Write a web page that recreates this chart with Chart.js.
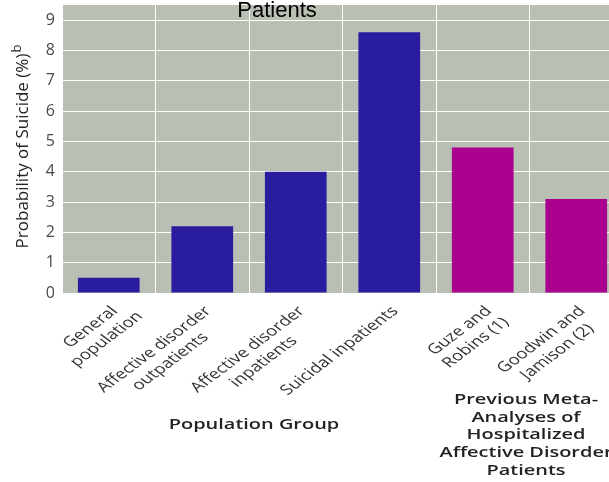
<!DOCTYPE html>
<html>
<head>
<meta charset="utf-8">
<script src="https://cdn.jsdelivr.net/npm/chart.js@4.4.1/dist/chart.umd.min.js"></script>
<style>
    html, body { margin: 0; padding: 0; overflow: hidden; background: #fff; }
    #wrap { width: 625px; height: 482px; }
</style>
</head>
<body>
<div id="wrap"><canvas id="suicideChart"></canvas></div>
<script>
// data
const groupLabels = [
    ['General', 'population'],
    ['Affective disorder', 'outpatients'],
    ['Affective disorder', 'inpatients'],
    ['Suicidal inpatients'],
    ['Guze and', 'Robins (1)'],
    ['Goodwin and', 'Jamison (2)']
];
const suicideProbability = [0.5, 2.2, 4.0, 8.6, 4.8, 3.1];
const barColors = ['#2a1c9e', '#2a1c9e', '#2a1c9e', '#2a1c9e', '#aa028e', '#aa028e'];
const yMin = 0, yMax = 9.5, yStep = 1;

const chartTitle = 'Patients';
const yTitle = 'Probability of Suicide (%)';
const yTitleSup = 'b';
const groupTitle = 'Population Group';
const metaTitle = ['Previous Meta-', 'Analyses of', 'Hospitalized', 'Affective Disorder', 'Patients'];

// the source picture is stretched sideways, so the bottom texts are too
const stretch = 1.33;

const plotBackground = {
    id: 'plotBackground',
    beforeDraw(chart) {
        const { ctx, chartArea } = chart;
        ctx.save();
        ctx.fillStyle = '#babfb4';
        ctx.fillRect(chartArea.left, chartArea.top, chartArea.right - chartArea.left, chartArea.bottom - chartArea.top);
        ctx.restore();
    }
};

function stretchedText(ctx, text, x, y) {
    ctx.save();
    ctx.translate(x, y);
    ctx.scale(stretch, 1);
    ctx.fillText(text, 0, 0);
    ctx.restore();
}

const textLayer = {
    id: 'textLayer',
    afterDraw(chart) {
        const { ctx, chartArea } = chart;
        const x = chart.scales.x;
        ctx.save();

        // slanted category labels, first line ends at the tick
        ctx.fillStyle = '#333';
        ctx.font = '14px "Open Sans"';
        ctx.textAlign = 'center';
        ctx.textBaseline = 'middle';
        groupLabels.forEach((lines, i) => {
            const px = x.getPixelForTick(i);
            const w0 = ctx.measureText(lines[0]).width;
            ctx.save();
            ctx.translate(px + 6, chartArea.bottom + 16);
            ctx.scale(stretch, 1);
            ctx.rotate(-Math.PI / 4);
            lines.forEach((l, j) => ctx.fillText(l, -w0 / 2, j * 17));
            ctx.restore();
        });

        // y title with raised b
        ctx.fillStyle = '#222';
        ctx.font = '17px "Open Sans"';
        ctx.textAlign = 'left';
        const tw = ctx.measureText(yTitle).width;
        ctx.save();
        ctx.translate(23, (chartArea.top + chartArea.bottom) / 2 - 3);
        ctx.rotate(-Math.PI / 2);
        ctx.fillText(yTitle, -tw / 2 - 5, 0);
        ctx.font = '13px "Open Sans"';
        ctx.fillText(yTitleSup, tw / 2 - 4, -6);
        ctx.restore();

        // axis group titles
        ctx.textAlign = 'center';
        ctx.font = '600 15px "Open Sans"';
        stretchedText(ctx, groupTitle, 254, 425);
        metaTitle.forEach((l, j) => stretchedText(ctx, l, 526, 400 + j * 17.6));

        // title, cut off at the top like the source
        ctx.fillStyle = '#000';
        ctx.font = '22px "Liberation Sans"';
        ctx.textBaseline = 'alphabetic';
        ctx.fillText(chartTitle, 277, 17);
        ctx.restore();
    }
};

new Chart(document.getElementById('suicideChart'), {
    type: 'bar',
    data: {
        labels: groupLabels,
        datasets: [{
            data: suicideProbability,
            backgroundColor: barColors,
            categoryPercentage: 1,
            barPercentage: 0.66
        }]
    },
    options: {
        responsive: true,
        maintainAspectRatio: false,
        animation: false,
        layout: { padding: { top: 5, right: 2, left: 0, bottom: 0 } },
        plugins: {
            legend: { display: false },
            tooltip: { enabled: false }
        },
        scales: {
            x: {
                ticks: { display: false },
                grid: { color: '#ffffff', drawTicks: false, offset: true },
                border: { display: false },
                afterFit: scale => { scale.height = 189; }
            },
            y: {
                min: yMin,
                max: yMax,
                ticks: {
                    stepSize: yStep,
                    includeBounds: false,
                    color: '#4a4a4a',
                    padding: 7,
                    font: { family: 'Open Sans', size: 16 }
                },
                grid: { color: '#ffffff', drawTicks: false },
                border: { display: false },
                afterFit: scale => {
                    scale.width = 62;
                    scale.paddingTop = 0;
                    scale.paddingBottom = 0;
                }
            }
        }
    },
    plugins: [plotBackground, textLayer]
});
</script>
</body>
</html>
